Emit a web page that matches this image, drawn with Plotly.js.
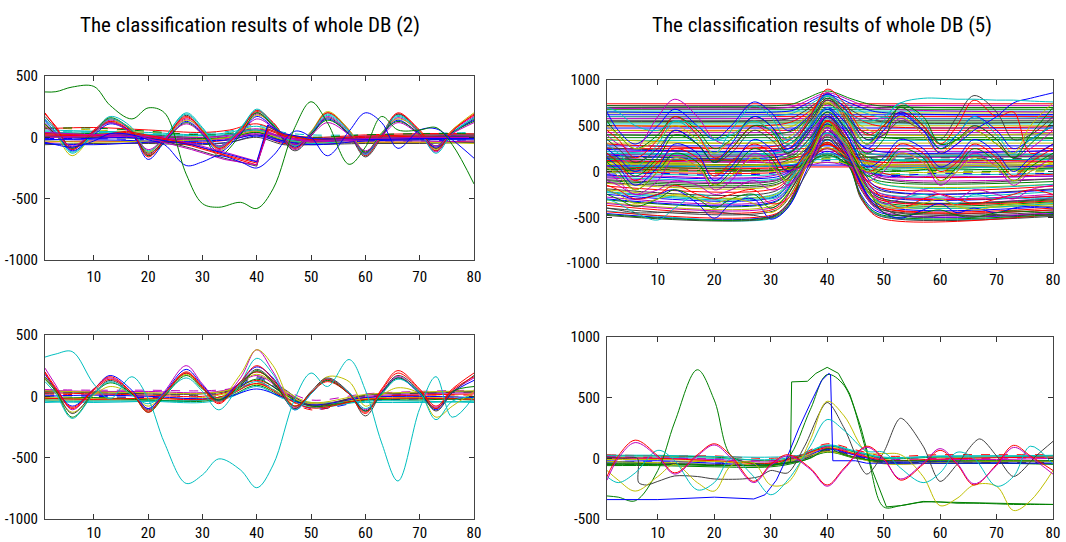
<!DOCTYPE html>
<html>
<head>
<meta charset="utf-8">
<script src="https://cdn.plot.ly/plotly-3.0.1.min.js"></script>
<style>
html,body{margin:0;padding:0;background:#fff;}
#chart{width:1066px;height:542px;}
</style>
</head>
<body>
<div id="chart"></div>
<script>
// ---------------- shared x positions (sample index 1..80) ----------------
const xTicks = [10, 20, 30, 40, 50, 60, 70, 80];
const xEnds = [1, 80];
const xGrid = [1, 3, 6, 10, 13, 17, 20, 23, 27, 30, 33, 37, 40, 43, 47, 50, 53, 57, 60, 63, 66, 70, 73, 76, 80];
const xSparse = [1, 10, 20, 30, 35, 40, 45, 50, 60, 70, 80];
const xDrop = [1, 10, 16, 22, 28, 34, 40, 42, 45, 50, 60, 70, 80];
const xBump = [1, 31, 34, 36, 40, 44, 46, 49, 80];

const titleLeft = "The classification results of whole DB (2)";
const titleRight = "The classification results of whole DB (5)";
const yTicksDB2 = [-1000, -500, 0, 500];
const yTextDB2 = ["-1000", "-500", "0", "500"];
const yTicksDB5top = [-1000, -500, 0, 500, 1000];
const yTextDB5top = ["-1000", "-500", "0", "500", "1000"];
const yTicksDB5bot = [-500, 0, 500, 1000];
const yTextDB5bot = ["-500", "0", "500", "1000"];

// ---------------- DB (2), upper panel ----------------
const db2TopBand = [
  [40, 30, 20, 0, 20, 60, 0, -20, -10, 0, 10],
  [20, 10, 0, -10, 10, 50, -10, -30, -20, -10, 0],
  [-10, -10, -20, -30, -10, 30, -30, -40, -30, -30, -20],
  [60, 50, 40, 20, 40, 90, 20, 0, 10, 20, 20],
  [0, 0, -10, -20, 0, 40, -20, -30, -20, -10, -10],
  [-40, -30, -40, -40, -20, 20, -50, -50, -40, -40, -30],
  [80, 60, 40, 10, 30, 80, 10, -10, 0, 10, 30],
  [30, 20, 10, -10, 0, 40, -30, -40, -20, -20, -10],
  [10, 20, 0, -20, -10, 30, -40, -50, -30, -30, -40],
  [-20, -20, -30, -50, -40, 10, -40, -20, 0, 10, 20],
  [50, 40, 30, 30, 50, 100, 40, 20, 20, 30, 40],
  [-60, -50, -50, -60, -40, 0, -60, -60, -50, -50, -40],
  [70, 80, 60, 40, 60, 110, 30, 0, 20, 30, 30],
  [-30, -40, -30, -20, 0, 50, -20, -40, -40, -40, -50],
  [75, 75, 50, 20, 30, 70, 10, 0, 20, 30, 30],
  [5, -5, 10, 0, 20, 70, 0, -20, 10, 0, -5],
  [-50, -60, -40, -30, -20, 20, -30, -60, -30, -20, -20],
  [35, 45, 25, 15, 25, 60, -10, -50, -10, 15, 25]
];
const db2TopDrop = [
  [30, 20, 40, -10, -70, -150, -225, 60, 10, -30, 0, 10, 0],
  [10, 0, 30, -20, -90, -170, -235, 90, 20, -20, -10, 0, 10],
  [0, 10, 20, 0, -50, -120, -195, 30, 0, -40, -20, -10, 0],
  [20, 10, 50, 0, -60, -140, -210, 70, 20, -20, 10, 20, 20],
  [-20, -10, 0, -20, -60, -130, -200, 100, 30, -10, -20, -10, -10],
  [40, 20, 30, -30, -100, -180, -225, 40, 0, -30, -10, 0, 0]
];
const db2TopWave = [
  [190, 90, -90, 60, 150, 60, -140, -20, 160, 60, -90, 60, 210, 120, -80, 40, 200, 60, -130, 30, 190, 60, -90, 60, 180],
  [150, 60, -120, 40, 170, 80, -120, 0, 190, 70, -70, 80, 220, 100, -90, 30, 180, 40, -150, 20, 170, 40, -110, 40, 160],
  [120, 30, -100, 50, 140, 50, -150, -30, 150, 40, -100, 40, 190, 90, -100, 20, 170, 30, -140, 10, 160, 30, -120, 50, 170],
  [100, 20, -150, 30, 130, 70, -120, -10, 140, 60, -110, 50, 180, 110, -70, 50, 210, 60, -120, 40, 150, 50, -100, 60, 200],
  [170, 70, -80, 50, 120, 40, -130, -20, 180, 50, -80, 70, 200, 90, -110, 10, 160, 20, -160, 0, 190, 40, -90, 30, 150],
  [140, 40, -110, 20, 110, 30, -180, -40, 130, 30, -120, 30, 170, 80, -80, 30, 150, 20, -130, 20, 140, 20, -80, 40, 140],
  [110, 20, -90, 40, 160, 50, -150, -40, 120, 20, -150, 20, 200, 100, -60, 30, 140, 30, -120, 30, 130, 30, -70, 40, 130],
  [200, 80, -100, 50, 130, 40, -160, -20, 170, 50, -90, 50, 220, 120, -90, 40, 200, 50, -150, 20, 200, 50, -110, 50, 190],
  [130, 40, -130, 30, 150, 60, -110, 0, 200, 80, -80, 70, 230, 110, -70, 40, 190, 50, -140, 30, 180, 40, -130, 30, 160],
  [90, 20, -70, 40, 120, 30, -100, -10, 110, 30, -70, 40, 150, 80, -60, 20, 120, 20, -110, 10, 120, 20, -70, 30, 120]
];
const db2TopGreen = [370, 372, 410, 415, 260, 150, 240, 200, -300, -540, -570, -530, -580, -420, 80, 290, 120, -220, -80, 170, 60, 60, 80, -60, -380];
const db2TopBlue = [-40, -60, -80, -30, 30, 20, -20, -60, -230, -200, -150, -200, -250, -150, 50, 0, -150, 50, 200, 120, -90, 60, 70, -20, -170];

// ---------------- DB (2), lower panel ----------------
const db2BotBand = [
  [30, 20, 10, 0, 40, 130, 30, -80, -10, 10, 20],
  [0, -10, -10, -20, 20, 110, 10, -90, -20, 0, 0],
  [-30, -30, -30, -40, 0, 90, -10, -70, -30, -20, -30],
  [50, 40, 40, 30, 60, 170, 40, -60, 0, 20, 30],
  [10, 0, -10, -10, 30, 150, 20, -100, -40, -20, -10],
  [-50, -40, -40, -50, -10, 80, -20, -50, -50, -50, -40],
  [40, 30, 20, 20, 50, 200, 60, -70, 10, 30, 40],
  [20, 10, 0, -30, 10, 120, 0, -110, -10, 10, 10],
  [-10, -20, -20, -10, 30, 100, 10, -60, -20, -10, -20],
  [-20, -10, -30, -30, 20, 140, 20, -80, -30, -30, -10],
  [55, 50, 50, 45, 60, 100, 50, -30, 20, 40, 50],
  [0, 10, 0, -20, 0, 60, -10, -70, -10, 0, -10],
  [-40, -50, -40, -30, 10, 120, 0, -90, -40, -40, -50],
  [25, 30, 20, 10, 45, 160, 35, -75, 5, 25, 35],
  [-15, -25, -15, -25, 15, 105, -5, -95, -25, -15, -25],
  [45, 35, 30, 25, 55, 180, 50, -50, 15, 35, 45]
];
const db2BotWave = [
  [230, 90, -110, 60, 150, 30, -100, 40, 250, 100, -30, 150, 380, 200, -90, 30, 130, 20, -110, 40, 160, 30, -90, 40, 150],
  [150, 40, -130, 10, 80, 20, -80, 20, 180, 70, -20, 180, 380, 250, -80, 20, 160, 120, -80, 10, 70, 20, -170, -80, 40],
  [180, 60, -80, 60, 170, 50, -100, 30, 220, 90, -30, 120, 240, 150, -110, 20, 140, 30, -120, 30, 150, 20, -110, 30, 130],
  [200, 70, -100, 50, 140, 30, -120, 20, 200, 80, -50, 110, 200, 120, -100, 30, 120, 20, -130, 60, 210, 60, -80, 60, 190],
  [160, 50, -140, 30, 130, 20, -110, 10, 190, 70, -40, 100, 220, 120, -100, 40, 150, 30, -160, 30, 170, 40, -120, 30, 170],
  [140, 40, -170, 20, 110, 20, -130, 0, 170, 60, -30, 90, 210, 110, -80, 30, 130, 20, -120, 20, 150, 30, -100, 40, 80],
  [120, 20, -180, 20, 120, 10, -60, 20, 150, 40, -110, 110, 310, 180, -110, 20, 140, 30, -100, 20, 140, 30, -190, -40, 0],
  [190, 60, -90, 60, 160, 30, -130, 20, 190, 70, -60, 120, 250, 140, -80, 30, 140, 20, -140, 50, 190, 50, -100, 50, 160]
];
const db2BotCyan = [320, 345, 365, 100, -20, 160, -20, -380, -710, -640, -510, -600, -745, -560, -20, 190, 80, 300, 50, -380, -690, -100, 160, -170, 0];

// ---------------- DB (5), upper panel ----------------
const db5TopFlat = [740, 720, 700, 680, 660, 640, 620, 600, 580, 560, 540, 520, 500, 475, 450, 425, 400, 370, 340, 310, 280, 250, 220, 190, 160, 130, 100, 70, 50];
const db5TopBand = [
  [0, 20, 10, 30, 60, 150, 60, 20, 10, 0, 10],
  [40, 60, 50, 60, 90, 200, 90, 40, 50, 40, 30],
  [80, 90, 70, 80, 120, 260, 120, 70, 60, 70, 80],
  [-30, -20, -40, -20, 40, 120, 40, -40, -20, -30, -20],
  [120, 110, 130, 120, 160, 300, 150, 100, 110, 120, 110],
  [-60, -50, -70, -50, 35, 100, 35, -60, -50, -60, -50],
  [160, 150, 140, 150, 200, 350, 190, 140, 150, 140, 150],
  [20, 40, 30, 10, 50, 180, 50, 0, 30, 20, 40],
  [200, 190, 210, 200, 250, 420, 230, 180, 170, 180, 190],
  [-10, 10, -10, 0, 45, 140, 45, -20, 0, -10, 0]
];
const db5TopBump = [
  [-460, -470, -250, 40, 300, 50, -250, -440, -460],
  [-430, -500, -300, 30, 350, 40, -280, -470, -480],
  [-400, -420, -200, 60, 400, 60, -200, -400, -420],
  [-370, -400, -150, 80, 450, 80, -180, -380, -400],
  [-340, -360, -120, 100, 500, 120, -150, -350, -340],
  [-310, -330, -100, 120, 550, 140, -120, -320, -330],
  [-280, -300, -60, 150, 600, 170, -100, -300, -290],
  [-250, -270, -40, 180, 650, 200, -80, -260, -270],
  [-220, -240, -20, 200, 700, 220, -50, -230, -220],
  [-190, -210, 0, 170, 620, 200, -30, -200, -190],
  [-160, -180, 0, 150, 560, 170, -20, -170, -160],
  [-130, -150, 10, 120, 500, 140, 0, -130, -140],
  [-100, -120, 10, 100, 450, 120, 10, -100, -110],
  [-70, -90, 20, 80, 400, 100, 20, -70, -80],
  [-40, -60, 20, 70, 350, 80, 20, -40, -50],
  [-10, -30, 30, 60, 300, 70, 30, -20, -20],
  [20, 10, 40, 90, 250, 80, -150, -400, -440],
  [50, 40, 70, 120, 300, 100, -150, -380, -420],
  [80, 70, 110, 180, 400, 170, -100, -330, -360],
  [110, 90, 150, 230, 500, 220, -50, -280, -310],
  [150, 130, 200, 300, 600, 280, 0, -230, -250],
  [180, 160, 240, 360, 700, 340, 50, -180, -200],
  [220, 200, 280, 420, 780, 400, 100, -120, -140],
  [260, 240, 330, 470, 820, 450, 150, -60, -80],
  [300, 280, 370, 520, 860, 500, 200, 0, -30],
  [350, 330, 410, 560, 840, 540, 250, 50, 30],
  [720, 720, 740, 790, 880, 800, 760, 720, 700],
  [690, 690, 710, 760, 860, 780, 730, 690, 650],
  [650, 650, 670, 730, 840, 750, 700, 650, 620],
  [600, 610, 640, 700, 820, 720, 660, 600, 590],
  [550, 560, 590, 660, 800, 680, 610, 550, 540],
  [500, 510, 550, 620, 780, 640, 560, 500, 490],
  [450, 460, 500, 580, 760, 600, 500, 420, 420],
  [400, 410, 450, 540, 740, 550, 450, 380, 360],
  [120, 100, 110, 150, 250, 160, 120, 100, 110],
  [60, 60, 70, 100, 220, 110, 70, 50, 60],
  [0, 20, 30, 50, 180, 60, 40, 20, 30],
  [-480, -490, -300, 30, 200, 40, -300, -480, -490],
  [-440, -460, -260, 40, 260, 50, -280, -500, -470],
  [100, 80, 130, 250, 450, 260, 150, 60, 80],
  [140, 130, 170, 300, 520, 310, 190, 130, 140],
  [190, 180, 220, 350, 600, 360, 240, 180, 170],
  [240, 230, 270, 400, 680, 410, 290, 220, 230],
  [-60, -80, 0, 150, 420, 170, 120, 120, 130],
  [-120, -140, -20, 170, 480, 190, 150, 160, 170],
  [30, 20, 50, 120, 300, 130, -100, -300, -320],
  [-200, -250, -50, 200, 550, 220, 100, 80, 100],
  [-470, -480, -280, 35, 320, 45, -270, -460, -470],
  [-350, -380, -160, 90, 480, 100, -160, -420, -450],
  [-300, -320, -90, 110, 520, 130, -130, -360, -380],
  [-230, -260, -40, 160, 580, 180, -70, -330, -350],
  [-90, -100, 10, 90, 380, 100, -60, -280, -300],
  [0, -10, 30, 70, 320, 90, -80, -250, -270]
];
const db5TopWave = [
  [650, 450, 300, 500, 680, 500, 350, 500, 760, 650, 450, 620, 850, 700, 350, 450, 620, 450, 250, 400, 600, 450, 250, 350, 500],
  [400, 300, 250, 600, 790, 600, 350, 300, 500, 450, 350, 550, 780, 600, 300, 400, 580, 400, 200, 300, 500, 350, 150, 250, 450],
  [550, 400, 250, 400, 600, 450, 250, 350, 600, 500, 300, 550, 800, 650, 300, 500, 700, 500, 250, 350, 450, 300, 150, 300, 550],
  [300, 200, 50, 300, 550, 400, 200, 450, 720, 600, 350, 600, 830, 650, 300, 550, 750, 550, 300, 400, 600, 400, 200, 350, 500],
  [450, 350, 150, 350, 600, 400, 150, 250, 500, 400, 250, 600, 900, 750, 400, 500, 650, 500, 300, 500, 780, 600, 650, 200, 300],
  [350, 250, 100, 250, 450, 300, 100, 200, 450, 350, 200, 500, 780, 650, 350, 400, 550, 450, 350, 600, 830, 650, 350, 400, 600],
  [500, 400, 250, 350, 500, 350, 200, 350, 550, 450, 300, 500, 750, 600, 300, 450, 600, 400, 200, 350, 450, 300, 200, 500, 750],
  [250, 150, 0, 200, 450, 300, 100, 300, 600, 500, 250, 500, 700, 550, 250, 450, 650, 450, 200, 300, 450, 600, 750, 800, 860],
  [200, 100, -50, 150, 400, 300, 100, 250, 500, 450, 200, 450, 650, 500, 200, 350, 720, 600, 300, 350, 500, 350, 150, 400, 700],
  [700, 650, 500, 450, 550, 500, 350, 400, 550, 450, 300, 500, 700, 650, 550, 600, 750, 800, 800, 790, 790, 780, 780, 770, 760],
  [-300, -350, -450, -530, -400, -250, -300, -350, -250, -300, -200, 200, 500, 300, -200, -350, -300, -250, -300, -350, -250, -300, -280, -300, -280],
  [-200, -250, -300, -250, -200, -350, -510, -350, -300, -520, -400, 100, 450, 250, -250, -450, -510, -420, -350, -450, -400, -450, -400, -380, -400],
  [-400, -420, -450, -450, -440, -450, -440, -460, -480, -500, -350, 50, 350, 200, -200, -400, -480, -500, -480, -470, -490, -480, -490, -470, -480],
  [-150, -200, -300, -250, -150, -250, -300, -250, -200, -350, -300, 150, 550, 350, -100, -300, -400, -300, -250, -300, -350, -300, -250, -200, -250],
  [-250, -300, -380, -300, -200, -300, -400, -300, -250, -400, -250, 200, 600, 400, -150, -450, -480, -450, -420, -480, -500, -450, -430, -440, -450],
  [-100, -150, -250, -200, -100, -150, -250, -200, -100, -200, -150, 100, 400, 250, -150, -350, -300, -200, -250, -300, -200, -250, -300, -200, -150],
  [-200, -250, -350, -300, -250, -300, -350, -300, -350, -450, -300, 150, 500, 300, -200, -380, -400, -350, -300, -380, -420, -380, -350, -370, -380],
  [200, 100, -100, 100, 250, 150, -50, 100, 300, 200, 0, 250, 550, 400, 0, 100, 300, 200, 0, 100, 300, 150, -50, 100, 250],
  [100, 0, -200, 0, 200, 100, -150, 0, 250, 150, -100, 200, 500, 350, -50, 50, 250, 150, -100, 50, 250, 100, -100, 50, 200],
  [0, -100, -250, -100, 150, 50, -200, -100, 200, 100, -150, 150, 450, 300, -100, 0, 200, 100, -150, 0, 200, 50, -150, 0, 150],
  [150, 50, -150, 50, 300, 200, -100, 50, 350, 250, 0, 300, 600, 450, 50, 150, 350, 250, 50, 150, 350, 200, 0, 150, 300],
  [50, -50, -200, 0, 150, 50, -150, -50, 150, 50, -100, 200, 500, 350, 0, 50, 200, 100, -100, 0, 150, 50, -100, 0, 100]
];

// ---------------- DB (5), lower panel ----------------
const db5BotBand = [
  [20, 20, 10, -20, 10, 100, 50, 0, 10, 10, 20],
  [0, 0, -10, -30, 0, 80, 30, -20, -10, -10, 0],
  [-20, -30, -30, -50, -10, 70, 20, -30, -30, -30, -30],
  [10, 10, 0, -10, 20, 110, 60, 10, 20, 20, 10],
  [-40, -40, -50, -60, -20, 60, 10, -40, -40, -40, -40],
  [30, 20, 20, 0, 30, 120, 70, 20, 30, 30, 30],
  [-10, -10, -20, -40, 0, 90, 40, -10, -20, -20, -20],
  [-60, -60, -70, -70, -30, 50, 0, -30, -40, -40, -50],
  [15, 5, -5, -20, 15, 95, 45, -5, 0, 0, 5],
  [-30, -20, -40, -50, -10, 75, 25, -25, -25, -30, -20],
  [25, 25, 15, 10, 25, 105, 55, 5, 15, 20, 25],
  [-50, -50, -50, -40, -20, 65, 15, -35, -30, -35, -35],
  [5, 0, -20, -40, 20, 85, 35, -15, -5, 5, 10],
  [-25, -35, -25, -60, -5, 55, 5, -45, -35, -25, -25]
];
const db5BotGreenHump = [-310, -320, -350, -100, 300, 730, 480, 20, -40, -50, -40, 0, 80, 30, -10, -20, -20, -20, -20, -20, -20, -20, -20, -20, -20];
const db5BotGreenFall = [-40, -40, -40, -50, -50, -50, -60, -60, -60, -60, 0, 400, 690, 600, 50, -400, -390, -360, -360, -370, -370, -375, -380, -380, -380];
const db5BotYellow = [-100, -180, -270, -150, -50, -200, -270, -60, -40, -220, -200, 150, 470, 350, 50, 40, 30, -150, -390, -330, -220, -230, -430, -350, -100];
const db5BotCyan = [-150, -200, -120, 66, -20, -260, -200, 0, -150, -300, -180, 100, 320, 230, 60, 50, -80, -200, -120, 50, 0, -230, -150, 100, -50];
const db5BotRed = [-150, 20, 150, 20, -120, 30, 120, 20, -190, -50, 30, -80, -220, -80, 100, 0, -180, -50, 66, -50, -220, -50, 107, 20, -100];
const db5BotMagenta = [-180, 0, 130, 10, -130, 20, 110, 0, -200, -60, 20, -90, -230, -90, 90, -10, -170, -40, 80, -40, -210, -60, 90, 10, -130];
const db5BotStepX = [1, 10, 20, 30, 33.5, 33.7, 36.5, 38, 40, 42, 44, 46, 48, 50.5, 53, 57, 60, 70, 80];
const db5BotStepY = [-50, -50, -60, -60, -30, 630, 635, 700, 750, 700, 530, 250, -100, -400, -390, -355, -360, -370, -380];
const db5BotBlueX = [1, 10, 20, 27, 29, 31, 33, 35, 37, 39, 40.3, 40.6, 41, 45, 47, 50, 60, 70, 80];
const db5BotBlueY = [-340, -340, -320, -335, -300, -180, 20, 250, 450, 640, 700, 690, -20, -20, -40, -40, -40, -45, -40];
const db5BotGrayX = [1, 4, 6.4, 6.6, 8, 10, 13, 17, 20, 25, 28, 30, 33, 36, 40, 43, 47, 50, 53, 57, 60, 63, 67, 70, 73, 77, 80];
const db5BotGrayY = [10, 0, 0, -200, -220, -190, -145, -150, -170, -170, -150, -100, -120, 100, 460, 250, -130, 50, 330, 100, -190, -50, 160, 20, -150, 20, 140];

// ---------------- styles ----------------
const palette = ['#0000FF', '#008000', '#FF0000', '#00BFBF', '#BF00BF', '#BFBF00', '#404040'];
const FONT = "'Roboto Condensed', 'DejaVu Sans Condensed', 'Liberation Sans', sans-serif";

const traces = [];
function addLine(x, y, ax, color, opt) {
  opt = opt || {};
  traces.push({
    type: 'scatter', mode: 'lines', x: x, y: y,
    xaxis: 'x' + ax, yaxis: 'y' + ax,
    line: {color: color, width: 1, shape: opt.shape || 'spline', smoothing: opt.smoothing == null ? 1 : opt.smoothing, dash: opt.dash || 'solid'},
    hoverinfo: 'skip', showlegend: false
  });
}
const col = i => palette[((i % palette.length) + palette.length) % palette.length];

// panel 1 : DB(2) top  -> axis ''
db2TopBand.forEach((y, i) => addLine(xSparse, y, '', col(i * 3 + 1), {dash: i % 4 === 2 ? 'dash' : 'solid'}));
db2TopWave.forEach((y, i) => addLine(xGrid, y, '', col(i + 2)));
db2TopDrop.forEach((y, i) => addLine(xDrop, y, '', ['#FF0000', '#404040', '#BF00BF', '#FF0000', '#0000FF', '#BF00BF'][i], {shape: 'linear'}));
addLine(xGrid, db2TopBlue, '', '#0000FF');
addLine(xGrid, db2TopGreen, '', '#008000');

// panel 3 : DB(2) bottom -> axis '3'
db2BotBand.forEach((y, i) => addLine(xSparse, y, '3', col(i * 3 + 2), {dash: i % 3 === 1 ? 'dash' : 'solid'}));
db2BotWave.forEach((y, i) => addLine(xGrid, y, '3', ['#BF00BF', '#BFBF00', '#0000FF', '#FF0000', '#404040', '#008000', '#00BFBF', '#FF0000'][i]));
addLine(xGrid, db2BotCyan, '3', '#00BFBF');

// panel 2 : DB(5) top -> axis '2'
db5TopFlat.forEach((v, i) => addLine(xEnds, [v, v], '2', col(i * 2 + 2), {shape: 'linear'}));
db5TopBump.forEach((y, i) => addLine(xBump, y, '2', col(i * 3), {smoothing: 0.9}));
db5TopBand.forEach((y, i) => addLine(xSparse, y, '2', col(i * 2 + 1), {dash: i % 3 === 0 ? 'dash' : 'solid'}));
db5TopWave.forEach((y, i) => addLine(xGrid, y, '2', ['#0000FF', '#BF00BF', '#008000', '#00BFBF', '#FF0000', '#404040', '#BFBF00', '#0000FF', '#008000', '#00BFBF', '#00BFBF', '#0000FF', '#404040', '#FF0000', '#008000', '#BF00BF', '#BFBF00', '#FF0000', '#008000', '#BF00BF', '#0000FF', '#BFBF00'][i]));

// panel 4 : DB(5) bottom -> axis '4'
db5BotBand.forEach((y, i) => addLine(xSparse, y, '4', col(i * 3 + 1), {dash: i % 3 === 2 ? 'dash' : 'solid'}));
addLine(xGrid, db5BotGreenHump, '4', '#008000');
addLine(xGrid, db5BotGreenFall, '4', '#008000');
addLine(db5BotStepX, db5BotStepY, '4', '#008000', {shape: 'linear'});
addLine(db5BotBlueX, db5BotBlueY, '4', '#0000FF', {shape: 'linear'});
addLine(db5BotGrayX, db5BotGrayY, '4', '#404040', {smoothing: 0.8});
addLine(xGrid, db5BotYellow, '4', '#BFBF00');
addLine(xGrid, db5BotCyan, '4', '#00BFBF');
addLine(xGrid, db5BotRed, '4', '#FF0000');
addLine(xGrid, db5BotMagenta, '4', '#BF00BF');

// ---------------- layout ----------------
const W = 1066, H = 542;
const px = v => v / W;
const py = v => 1 - v / H;
function xAx(l, r, anchor, standoff) {
  return {domain: [px(l), px(r)], range: xEnds, tickvals: xTicks, ticks: 'inside', ticklen: 5,
    tickcolor: '#333', mirror: 'ticks', showline: true, linecolor: '#444', linewidth: 1,
    showgrid: false, zeroline: false, anchor: anchor, ticklabelstandoff: standoff,
    tickfont: {family: FONT, size: 15, color: '#000'}};
}
function yAx(top, bottom, range, ticks, texts, anchor) {
  return {domain: [py(bottom), py(top)], range: range, tickvals: ticks, ticktext: texts, ticks: 'inside', ticklen: 5,
    tickcolor: '#333', mirror: 'ticks', showline: true, linecolor: '#444', linewidth: 1,
    showgrid: false, zeroline: false, anchor: anchor, ticklabelstandoff: 3,
    tickfont: {family: FONT, size: 15, color: '#000'}};
}
const layout = {
  width: W, height: H, paper_bgcolor: '#fff', plot_bgcolor: '#fff',
  margin: {l: 0, r: 0, t: 0, b: 0}, showlegend: false, hovermode: false,
  xaxis: xAx(45, 474, 'y', 3), yaxis: yAx(76, 260, [-1000, 500], yTicksDB2, yTextDB2, 'x'),
  xaxis2: xAx(607, 1053, 'y2', 3), yaxis2: yAx(80, 263, [-1000, 1000], yTicksDB5top, yTextDB5top, 'x2'),
  xaxis3: xAx(45, 474, 'y3', 0), yaxis3: yAx(335, 519, [-1000, 500], yTicksDB2, yTextDB2, 'x3'),
  xaxis4: xAx(607, 1053, 'y4', 0), yaxis4: yAx(337, 519, [-500, 1000], yTicksDB5bot, yTextDB5bot, 'x4'),
  annotations: [
    {text: titleLeft, x: px(250), y: py(25), xref: 'paper', yref: 'paper', showarrow: false,
     xanchor: 'center', yanchor: 'middle', font: {family: FONT, size: 21, color: '#000'}},
    {text: titleRight, x: px(822), y: py(25), xref: 'paper', yref: 'paper', showarrow: false,
     xanchor: 'center', yanchor: 'middle', font: {family: FONT, size: 21, color: '#000'}}
  ]
};
Plotly.newPlot('chart', traces, layout, {staticPlot: true, displayModeBar: false});
</script>
</body>
</html>
